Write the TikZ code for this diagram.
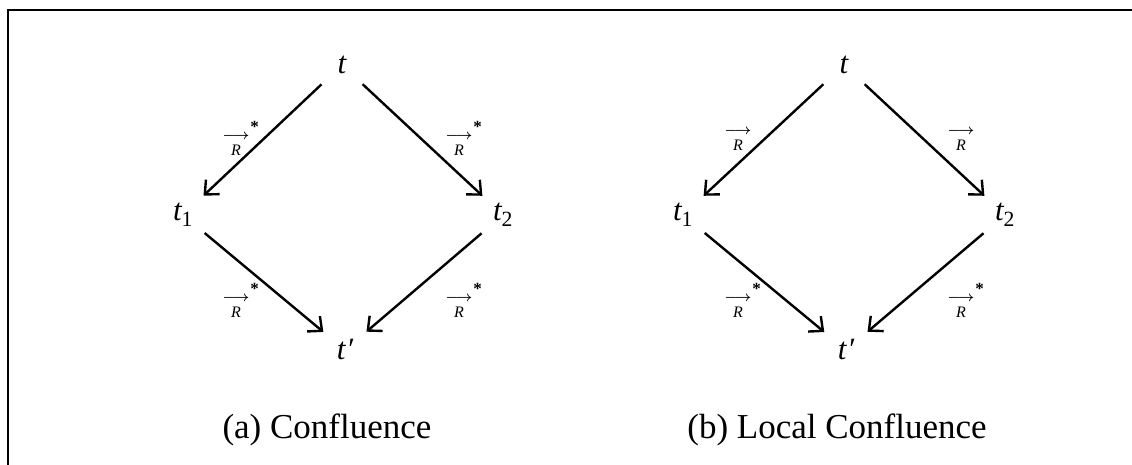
\documentclass[tikz,border=0pt]{standalone}
\usepackage{fontspec}
\setmainfont{Liberation Serif}
\usetikzlibrary{arrows.meta}
\newcommand{\relarrow}[1]{\begin{tabular}{@{}c@{}}%
  {\fontsize{15}{15}\selectfont\boldmath$\longrightarrow$}\rlap{\raisebox{7pt}{\kern1pt\fontsize{17}{17}\selectfont\bfseries #1}}\\[2pt]
  {\fontsize{16}{16}\selectfont\itshape R}\end{tabular}}
\begin{document}
\begin{tikzpicture}[x=1pt,y=-1pt,
  vert/.style={circle,minimum size=56pt,inner sep=0pt,font=\fontsize{31}{36}\selectfont\itshape},
  edge/.style={line width=2.4pt,-{Straight Barb[length=11pt,width=20pt,line width=2.4pt]}},
  rel/.style={inner sep=0pt},
  captext/.style={font=\fontsize{35}{40}\selectfont},
  frame/.style={line width=2.6pt}]
\useasboundingbox (0,0) rectangle (1132,465);
\coordinate (fbl) at (8,465);
\coordinate (ftl) at (8,10);
\coordinate (ftr) at (1132,10);
\draw[frame] (fbl) -- (ftl) -- (ftr);
% (a)
\node[vert] (ta) at (342,65) {t};
\node[vert] (t1a) at (183,215) {t\textsubscript{\upshape 1}};
\node[vert] (t2a) at (503,215) {t\textsubscript{\upshape 2}};
\node[vert] (tpa) at (345,350) {t\kern1pt′};
\draw[edge] (ta) -- (t1a);
\draw[edge] (ta) -- (t2a);
\draw[edge] (t1a) -- (tpa);
\draw[edge] (t2a) -- (tpa);
\node[rel] (la1) at (236,140) {\relarrow{*}};
\node[rel] (la2) at (459,140) {\relarrow{*}};
\node[rel] (la3) at (236,302) {\relarrow{*}};
\node[rel] (la4) at (459,302) {\relarrow{*}};
\node[captext] (capa) at (327,430) {(a) Confluence};
% (b)
\node[vert] (tb) at (844,65) {t};
\node[vert] (t1b) at (683,215) {t\textsubscript{\upshape 1}};
\node[vert] (t2b) at (1005,215) {t\textsubscript{\upshape 2}};
\node[vert] (tpb) at (846,350) {t\kern1pt′};
\draw[edge] (tb) -- (t1b);
\draw[edge] (tb) -- (t2b);
\draw[edge] (t1b) -- (tpb);
\draw[edge] (t2b) -- (tpb);
\node[rel] (lb1) at (738,140) {\relarrow{}};
\node[rel] (lb2) at (961,140) {\relarrow{}};
\node[rel] (lb3) at (738,302) {\relarrow{*}};
\node[rel] (lb4) at (961,302) {\relarrow{*}};
\node[captext] (capb) at (837,430) {(b) Local Confluence};
\end{tikzpicture}
\end{document}
